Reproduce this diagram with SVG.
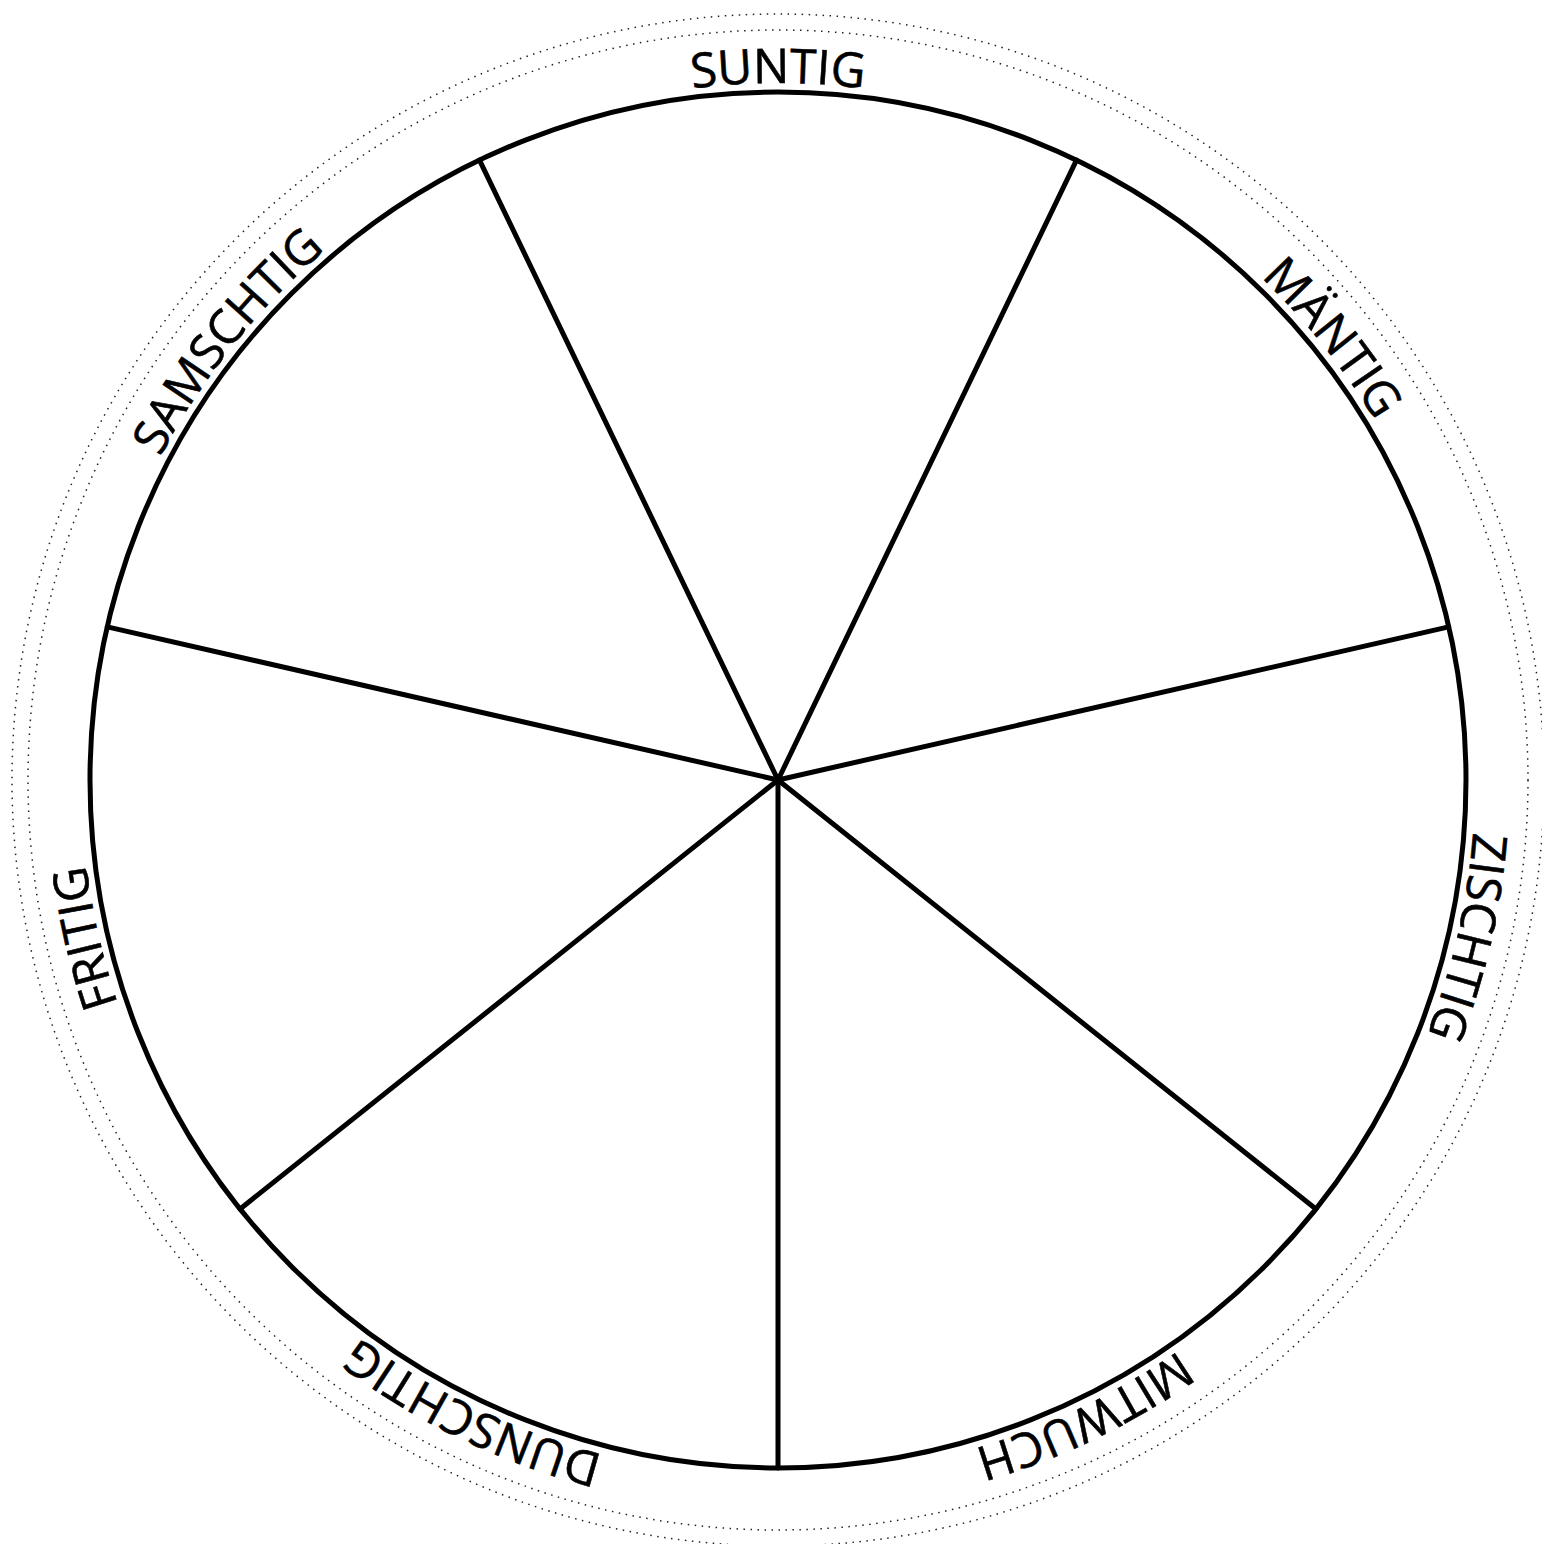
<svg xmlns="http://www.w3.org/2000/svg" xmlns:xlink="http://www.w3.org/1999/xlink" width="1542" height="1544" viewBox="0 0 1542 1544">
<style>
.dot{fill:none;stroke:#222;stroke-width:1.5;stroke-dasharray:1.5 5.5}
.main{fill:none;stroke:#000;stroke-width:5}
.spoke{stroke:#000;stroke-width:5;stroke-linecap:round}
.lbl{font-family:"Open Sans","Noto Sans",sans-serif;font-size:48px;fill:#000;stroke:#000;stroke-width:0.6;text-anchor:middle}
</style>
<defs>
<path id="tp" d="M 778,1477 A 697 697 0 1 1 778,83 A 697 697 0 1 1 778,1477"/>
</defs>
<rect width="1542" height="1544" fill="#fff"/>
<g id="rim">
<circle class="dot" cx="778" cy="780" r="766"/>
<circle class="dot" cx="778" cy="780" r="750"/>
<circle class="main" cx="778" cy="780" r="688"/>
</g>
<g id="connectors">
<line class="spoke" x1="778" y1="780" x2="1076.5" y2="160.1"/>
<line class="spoke" x1="778" y1="780" x2="1448.7" y2="626.9"/>
<line class="spoke" x1="778" y1="780" x2="1315.9" y2="1209.0"/>
<line class="spoke" x1="778" y1="780" x2="778" y2="1468"/>
<line class="spoke" x1="778" y1="780" x2="240.1" y2="1209.0"/>
<line class="spoke" x1="778" y1="780" x2="107.3" y2="626.9"/>
<line class="spoke" x1="778" y1="780" x2="479.5" y2="160.1"/>
</g>
<g id="suntig"><text class="lbl"><textPath xlink:href="#tp" href="#tp" startOffset="50%">SUNTIG</textPath></text></g>
<g id="maentig"><text class="lbl"><textPath xlink:href="#tp" href="#tp" startOffset="64.286%">MÄNTIG</textPath></text></g>
<g id="zischtig"><text class="lbl"><textPath xlink:href="#tp" href="#tp" startOffset="78.571%">ZISCHTIG</textPath></text></g>
<g id="mitwuch"><text class="lbl"><textPath xlink:href="#tp" href="#tp" startOffset="92.857%">MITWUCH</textPath></text></g>
<g id="dunschtig"><text class="lbl"><textPath xlink:href="#tp" href="#tp" startOffset="7.143%">DUNSCHTIG</textPath></text></g>
<g id="fritig"><text class="lbl"><textPath xlink:href="#tp" href="#tp" startOffset="21.429%">FRITIG</textPath></text></g>
<g id="samschtig"><text class="lbl"><textPath xlink:href="#tp" href="#tp" startOffset="35.714%">SAMSCHTIG</textPath></text></g>
</svg>
